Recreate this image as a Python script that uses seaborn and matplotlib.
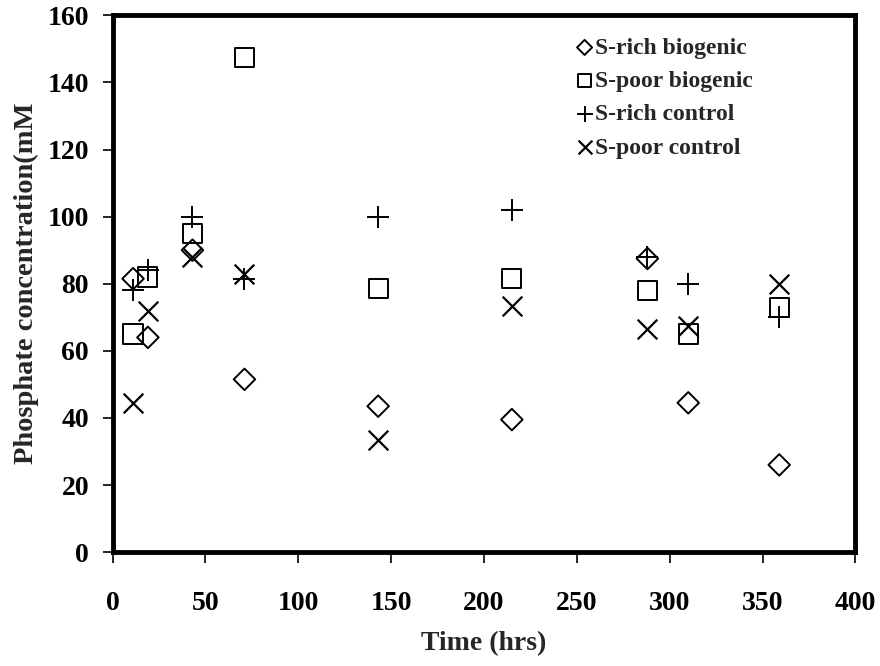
import matplotlib
matplotlib.use("Agg")
import matplotlib.pyplot as plt
import seaborn as sns
import pandas as pd

# Sampling times (hrs) and phosphate concentration (mM) for each treatment
time_hrs = [11, 19, 43, 71, 143, 215, 288, 310, 359]
s_rich_biogenic = [81.5, 64, 90, 51.5, 43.5, 39.5, 87.5, 44.5, 26]
s_poor_biogenic = [65, 82, 95, 147.5, 78.5, 81.5, 78, 65, 73]
s_rich_control = [78, 84, 100, 81.5, 100, 102, 88, 80, 70]
s_poor_control = [44.5, 72, 88, 83, 33.5, 73.5, 66.5, 67.5, 80]

series_names = ["S-rich biogenic", "S-poor biogenic", "S-rich control", "S-poor control"]
series_values = [s_rich_biogenic, s_poor_biogenic, s_rich_control, s_poor_control]

x_ticks = [0, 50, 100, 150, 200, 250, 300, 350, 400]
y_ticks = [0, 20, 40, 60, 80, 100, 120, 140, 160]

frames = []
for name, vals in zip(series_names, series_values):
    frames.append(pd.DataFrame({"Time": time_hrs, "Phosphate": vals, "Series": name}))
df = pd.concat(frames, ignore_index=True)

sns.set_theme(style="white")
plt.rcParams["font.family"] = ["Liberation Serif", "DejaVu Serif"]
plt.rcParams["font.weight"] = "bold"

fig = plt.figure(figsize=(8.8, 6.66), dpi=100)
ax = fig.add_axes([0.128, 0.171, 0.844, 0.806])

styles = {
    "S-rich biogenic": dict(marker="D", s=120, facecolors="none", edgecolors="black", linewidths=1.4),
    "S-poor biogenic": dict(marker="s", s=190, facecolors="none", edgecolors="black", linewidths=1.4),
    "S-rich control": dict(marker="+", s=260, color="black", linewidths=1.4),
    "S-poor control": dict(marker="x", s=200, color="black", linewidths=1.6),
}

for name in series_names:
    sub = df[df["Series"] == name]
    sns.scatterplot(data=sub, x="Time", y="Phosphate", ax=ax, label=name, **styles[name])

ax.set_xlim(0, 400)
ax.set_ylim(0, 160)
ax.set_xticks(x_ticks)
ax.set_yticks(y_ticks)
ax.set_xticklabels([str(t) for t in x_ticks], fontsize=20, fontweight="bold")
ax.set_yticklabels([str(t) for t in y_ticks], fontsize=20, fontweight="bold")
ax.tick_params(axis="x", direction="out", length=8, width=1.2, pad=20, bottom=True, colors="black")
ax.tick_params(axis="y", direction="out", length=7, width=1.2, pad=10, left=True, colors="black")

for side in ax.spines.values():
    side.set_linewidth(3.5)
    side.set_color("black")

ax.set_xlabel("Time (hrs)", fontsize=20, fontweight="bold", labelpad=11)
ax.set_ylabel("Phosphate concentration(mM", fontsize=20.5, fontweight="bold", labelpad=6)

leg = ax.legend(loc="upper left", bbox_to_anchor=(0.61, 0.977), frameon=False,
                prop={"family": "Liberation Serif", "weight": "bold", "size": 17},
                handletextpad=0.05, labelspacing=0.5, handlelength=0.8,
                borderaxespad=0.0, markerscale=0.7)

fig.savefig("out.png", dpi=100)
